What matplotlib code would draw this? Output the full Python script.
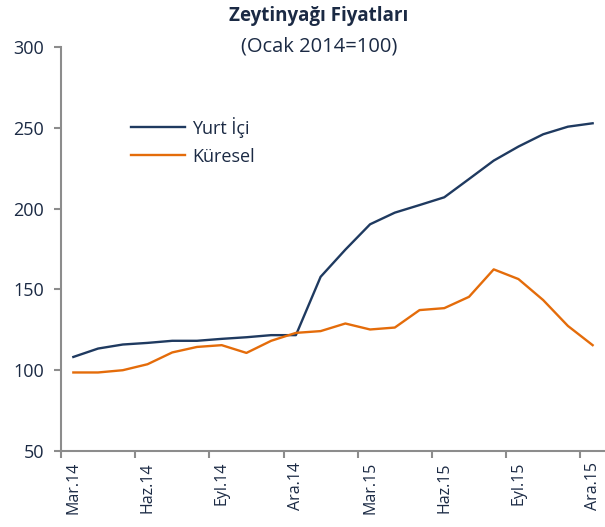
import numpy as np
import matplotlib
matplotlib.use("Agg")
import matplotlib.pyplot as plt

plt.rcParams['font.family'] = ['Open Sans', 'DejaVu Sans']

months = ["Mar.14", "Nis.14", "May.14", "Haz.14", "Tem.14", "Ağu.14", "Eyl.14",
          "Eki.14", "Kas.14", "Ara.14", "Oca.15", "Şub.15", "Mar.15", "Nis.15",
          "May.15", "Haz.15", "Tem.15", "Ağu.15", "Eyl.15", "Eki.15", "Kas.15",
          "Ara.15"]
yurtici = [108.2, 113.4, 115.9, 116.9, 118.2, 118.2, 119.4, 120.4, 121.7, 121.7,
           157.8, 174.6, 190.3, 197.5, 202.2, 207.0, 218.3, 229.7, 238.4, 246.0,
           250.7, 252.8]
kuresel = [98.6, 98.6, 100.0, 103.7, 111.0, 114.4, 115.5, 110.7, 118.2, 123.1,
           124.2, 128.9, 125.2, 126.4, 137.2, 138.4, 145.4, 162.4, 156.4, 143.4,
           127.4, 115.5]

navy = '#1f3a60'
orange = '#e46c0a'
txt = '#1b2a44'
gray = '#8c8c8c'

fig = plt.figure(figsize=(6.05, 5.27), dpi=100)
ax = fig.add_axes([0.1008, 0.1442, 0.8992, 0.7666])

x = np.arange(len(months))
ax.plot(x, yurtici, color=navy, lw=1.7, label='Yurt İçi')
ax.plot(x, kuresel, color=orange, lw=1.7, label='Küresel')

ax.set_xlim(-0.5, len(months) - 0.5)
ax.set_ylim(50, 300)
ax.set_yticks(np.arange(50, 301, 50))

# tick marks between categories, labels every 3rd month
ax.set_xticks(np.arange(-0.5, len(months) - 1, 3))
ax.set_xticklabels([])
ax.set_xticks(x[::3], minor=True)
ax.set_xticklabels(months[::3], minor=True, rotation=90, fontsize=11.5, color=txt)
ax.tick_params(axis='x', which='minor', length=0, pad=8)
ax.tick_params(axis='x', which='major', length=5, color=gray, width=1.5)
ax.tick_params(axis='y', length=5, color=gray, width=1.5, labelsize=13,
               labelcolor=txt, pad=7)

for s in ['top', 'right']:
    ax.spines[s].set_visible(False)
for s in ['left', 'bottom']:
    ax.spines[s].set_color(gray)
    ax.spines[s].set_linewidth(1.5)

leg = ax.legend(loc='upper left', bbox_to_anchor=(0.115, 0.845), frameon=False,
                handlelength=3.0, handletextpad=0.4, labelspacing=0.55,
                fontsize=13, borderaxespad=0)
for t in leg.get_texts():
    t.set_color(txt)

fig.text(0.527, 0.97, 'Zeytinyağı Fiyatları', ha='center', va='center',
         fontsize=13.5, fontweight='bold', color=txt)
fig.text(0.527, 0.911, '(Ocak 2014=100)', ha='center', va='center',
         fontsize=14.5, color=txt)

fig.savefig('out.png', dpi=100)
